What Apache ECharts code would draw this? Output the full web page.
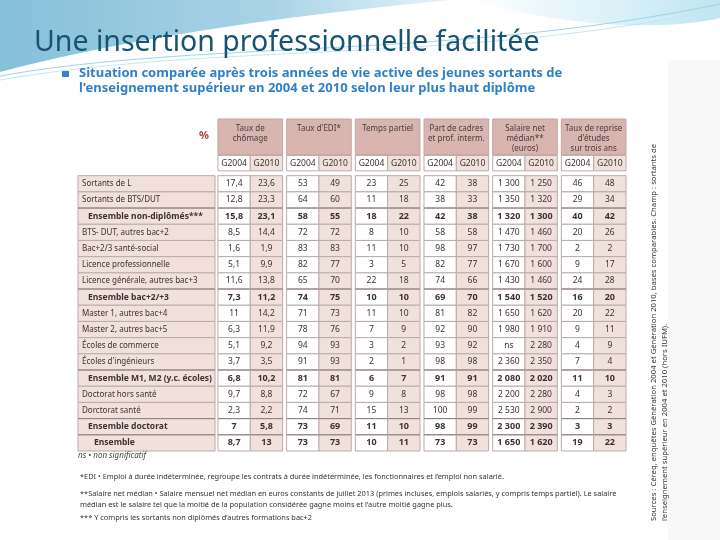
<!DOCTYPE html>
<html><head><meta charset="utf-8">
<script src="https://cdn.jsdelivr.net/npm/echarts@6/dist/echarts.min.js"></script>
<style>html,body{margin:0;padding:0;background:#fff}#c{width:720px;height:540px}</style>
</head><body><div id="c"></div>
<script>
// ---------- DATA ----------
const rowLabels = ['Sortants de L','Sortants de BTS/DUT','Ensemble non-diplômés***','BTS- DUT, autres bac+2','Bac+2/3 santé-social','Licence professionnelle','Licence générale, autres bac+3','Ensemble bac+2/+3','Master 1, autres bac+4','Master 2, autres bac+5','Écoles de commerce',"Écoles d'ingénieurs",'Ensemble M1, M2 (y.c. écoles)','Doctorat hors santé','Dorctorat santé','Ensemble doctorat','Ensemble'];
const rowLevels = [0,0,1,0,0,0,0,1,0,0,0,0,1,0,0,1,2];
const groupTitles = ['Taux de\nchômage',"Taux d'EDI*",'Temps partiel','Part de cadres\net prof. interm.','Salaire net\nmédian**\n(euros)',"Taux de reprise\nd'études\nsur trois ans"];
const yearLabels = ['G2004','G2010'];
const chomage2004 = [17.4,12.8,15.8,8.5,1.6,5.1,11.6,7.3,11,6.3,5.1,3.7,6.8,9.7,2.3,7,8.7];
const chomage2010 = [23.6,23.3,23.1,14.4,1.9,9.9,13.8,11.2,14.2,11.9,9.2,3.5,10.2,8.8,2.2,5.8,13];
const edi2004 = [53,64,58,72,83,82,65,74,71,78,94,91,81,72,74,73,73];
const edi2010 = [49,60,55,72,83,77,70,75,73,76,93,93,81,67,71,69,73];
const partiel2004 = [23,11,18,8,11,3,22,10,11,7,3,2,6,9,15,11,10];
const partiel2010 = [25,18,22,10,10,5,18,10,10,9,2,1,7,8,13,10,11];
const cadres2004 = [42,38,42,58,98,82,74,69,81,92,93,98,91,98,100,98,73];
const cadres2010 = [38,33,38,58,97,77,66,70,82,90,92,98,91,98,99,99,73];
const salaire2004 = [1300,1350,1320,1470,1730,1670,1430,1540,1650,1980,null,2360,2080,2200,2530,2300,1650];
const salaire2010 = [1250,1320,1300,1460,1700,1600,1460,1520,1620,1910,2280,2350,2020,2280,2900,2390,1620];
const reprise2004 = [46,29,40,20,2,9,24,16,20,9,4,7,11,4,2,3,19];
const reprise2010 = [48,34,42,26,2,17,28,20,22,11,9,4,10,3,2,3,22];

// ---------- LAYOUT ----------
const FONT = '"Noto Sans", "DejaVu Sans", sans-serif';
const GAP = 0.125, LABEL_W = 4.24, LGAP = 0.09;
const groups = [[chomage2004,chomage2010],[edi2004,edi2010],[partiel2004,partiel2010],[cadres2004,cadres2010],[salaire2004,salaire2010],[reprise2004,reprise2010]];
const HEAD_TOP = -3.5, HEAD_BOT = -1.3, YR_TOP = -1.25, YR_BOT = -0.3;
const PINK = '#f2e0dd', HEADPINK = '#d8b5b0', BORDER = '#b9aba9', DARK = '#8d7f7d', TXT = '#3a3333';

function fmt(g, v) {
  if (v == null) return 'ns';
  if (g === 4) { return Math.floor(v/1000) + ' ' + String(v % 1000).padStart(3,'0'); }
  return String(v).replace('.', ',');
}
const cellData = [], cellText = [];
groups.forEach((pair, g) => pair.forEach((arr, k) => arr.forEach((v, r) => {
  cellData.push([g*2+k, r, g, k, rowLevels[r]]);
  cellText.push(fmt(g, v));
})));
const labelData = rowLabels.map((l, r) => [-LABEL_W - LGAP, r, rowLevels[r]]);
const headData = groupTitles.map((t, g) => [g*2, HEAD_TOP, g]);
const yearData = [];
groupTitles.forEach((t, g) => yearLabels.forEach((y, k) => yearData.push([g*2+k, YR_TOP, g, k])));

function rectOf(api, x0, y0, x1, y1) {
  const p0 = api.coord([x0, y0]), p1 = api.coord([x1, y1]);
  return {x: p0[0], y: p0[1], width: p1[0]-p0[0], height: p1[1]-p0[1]};
}
// decorative curve sampler (background swoosh only)
function bez(a, b, c, d, n) {
  const pts = [];
  for (let i = 0; i <= n; i++) {
    const t = i / n, u = 1 - t;
    pts.push([u*u*u*a[0] + 3*u*u*t*b[0] + 3*u*t*t*c[0] + t*t*t*d[0], u*u*u*a[1] + 3*u*u*t*b[1] + 3*u*t*t*c[1] + t*t*t*d[1]]);
  }
  return pts;
}
const grad = (x2, y2, stops) => ({type: 'linear', x: 0, y: 0, x2, y2, colorStops: stops});

const option = {
  backgroundColor: '#ffffff',
  animation: false,
  grid: {left: 78, right: 94, top: 119, bottom: 89},
  xAxis: {type: 'value', min: -LABEL_W - LGAP, max: 12 + 5*GAP, show: false},
  yAxis: {type: 'value', min: HEAD_TOP, max: 17, inverse: true, show: false},
  graphic: [
    {type: 'rect', silent: true, z: -11, shape: {x: 668, y: 60, width: 52, height: 480}, style: {fill: '#f8f8f8'}},
    {type: 'polygon', silent: true, z: -10, shape: {points: [[0,0],[450,0]].concat(bez([450,0],[330,12],[160,30],[0,72],24))},
      style: {fill: grad(1, 0, [{offset:0,color:'#86bfd9'},{offset:0.6,color:'#a9d3e6'},{offset:1,color:'#e4f3f9'}])}},
    {type: 'polygon', silent: true, z: -10, shape: {points: [[470,0],[720,0],[720,18]].concat(bez([720,18],[660,32],[560,26],[470,0],24))},
      style: {fill: grad(1, 0, [{offset:0,color:'#ffffff'},{offset:1,color:'#bfe6f2'}])}},
    {type: 'polyline', silent: true, z: -9, shape: {points: bez([0,76],[200,40],[450,60],[720,4],40)}, style: {stroke: '#9fd3e8', lineWidth: 1}},
    {type: 'polyline', silent: true, z: -9, shape: {points: bez([0,80],[220,42],[460,64],[720,9],40)}, style: {stroke: '#c6e6f2', lineWidth: 1}},
    {type: 'text', left: 34, top: 28, style: {text: 'Une insertion professionnelle facilitée', font: '28.5px ' + FONT, fill: '#17546f'}},
    {type: 'rect', left: 62, top: 71, shape: {width: 7, height: 6}, style: {fill: '#3b82c4'}},
    {type: 'text', left: 79, top: 66, style: {text: "Situation comparée après trois années de vie active des jeunes sortants de\nl'enseignement supérieur en 2004 et 2010 selon leur plus haut diplôme", font: 'bold 13px ' + FONT, fill: '#2f80c4', lineHeight: 15}},
    {type: 'text', left: 199, top: 130, style: {text: '%', font: 'bold 11px ' + FONT, fill: '#b8443d'}},
    {type: 'text', left: 78, top: 452, style: {text: 'ns • non significatif', font: 'italic 8px ' + FONT, fill: '#444'}},
    {type: 'text', left: 80, top: 473, style: {text: '*EDI • Emploi à durée indéterminée, regroupe les contrats à durée indéterminée, les fonctionnaires et l\u2019emploi non salarié.', font: '7.4px ' + FONT, fill: '#333'}},
    {type: 'text', left: 80, top: 488, style: {text: '**Salaire net médian • Salaire mensuel net médian en euros constants de juillet 2013 (primes incluses, emplois salariés, y compris temps partiel). Le salaire\nmédian est le salaire tel que la moitié de la population considérée gagne moins et l\u2019autre moitié gagne plus.', font: '7.4px ' + FONT, fill: '#333', lineHeight: 11}},
    {type: 'text', left: 80, top: 514, style: {text: '*** Y compris les sortants non diplômés d\u2019autres formations bac+2', font: '7.4px ' + FONT, fill: '#333'}},
    {type: 'text', x: 659, y: 521, rotation: Math.PI/2, style: {text: 'Sources : Céreq, enquêtes Génération 2004 et Génération 2010, bases comparables. Champ : sortants de\nl\u2019enseignement supérieur en 2004 et 2010 (hors IUFM).', font: '7.7px ' + FONT, fill: '#333', lineHeight: 11, align: 'left', verticalAlign: 'middle'}}
  ],
  series: [
    { // header boxes
      type: 'custom', data: headData, encode: {x: 0, y: 1},
      renderItem: (params, api) => {
        const c = api.value(0), g = api.value(2);
        const x0 = c + g*GAP;
        const r = rectOf(api, x0, HEAD_TOP, x0 + 2, HEAD_BOT);
        return {type: 'group', children: [
          {type: 'rect', shape: r, style: {fill: HEADPINK, stroke: '#c9a5a0', lineWidth: 1}},
          {type: 'text', style: {text: groupTitles[params.dataIndex], x: r.x + r.width/2, y: r.y + 5, align: 'center', verticalAlign: 'top', font: '8px ' + FONT, fill: '#4a3b39', lineHeight: 10}}
        ]};
      }
    },
    { // year row
      type: 'custom', data: yearData, encode: {x: 0, y: 1},
      renderItem: (params, api) => {
        const c = api.value(0), g = api.value(2), k = api.value(3);
        const x0 = c + g*GAP;
        const r = rectOf(api, x0, YR_TOP, x0 + 1, YR_BOT);
        return {type: 'group', children: [
          {type: 'rect', shape: r, style: {fill: k ? PINK : '#fff', stroke: BORDER, lineWidth: 1}},
          {type: 'text', style: {text: yearLabels[k], x: r.x + r.width/2, y: r.y + r.height/2, align: 'center', verticalAlign: 'middle', font: '8.5px ' + FONT, fill: TXT}}
        ]};
      }
    },
    { // row labels
      type: 'custom', data: labelData, encode: {x: 0, y: 1},
      renderItem: (params, api) => {
        const x0 = api.value(0), row = api.value(1), lvl = api.value(2);
        const r = rectOf(api, x0, row, -LGAP, row + 1);
        const children = [
          {type: 'rect', shape: r, style: {fill: PINK, stroke: BORDER, lineWidth: 1}},
          {type: 'text', style: {text: rowLabels[params.dataIndex], x: r.x + (lvl === 0 ? 4 : lvl === 1 ? 10 : 16), y: r.y + r.height/2, align: 'left', verticalAlign: 'middle', font: (lvl ? 'bold 8.5px ' : '8px ') + FONT, fill: TXT}}
        ];
        if (lvl) children.push({type: 'line', shape: {x1: r.x, y1: r.y, x2: r.x + r.width, y2: r.y}, style: {stroke: DARK, lineWidth: 1}});
        return {type: 'group', children};
      }
    },
    { // data cells
      type: 'custom', data: cellData, encode: {x: 0, y: 1},
      renderItem: (params, api) => {
        const c = api.value(0), row = api.value(1), g = api.value(2), k = api.value(3), lvl = api.value(4);
        const x0 = c + g*GAP;
        const r = rectOf(api, x0, row, x0 + 1, row + 1);
        const children = [
          {type: 'rect', shape: r, style: {fill: k ? PINK : '#fff', stroke: BORDER, lineWidth: 1}},
          {type: 'text', style: {text: cellText[params.dataIndex], x: r.x + r.width/2, y: r.y + r.height/2, align: 'center', verticalAlign: 'middle', font: (lvl ? 'bold 9px ' : '8.5px ') + FONT, fill: TXT}}
        ];
        if (lvl) children.push({type: 'line', shape: {x1: r.x, y1: r.y, x2: r.x + r.width, y2: r.y}, style: {stroke: DARK, lineWidth: 1}});
        return {type: 'group', children};
      }
    }
  ]
};
const chart = echarts.init(document.getElementById('c'), null, {renderer: 'canvas'});
chart.setOption(option);
</script></body></html>
